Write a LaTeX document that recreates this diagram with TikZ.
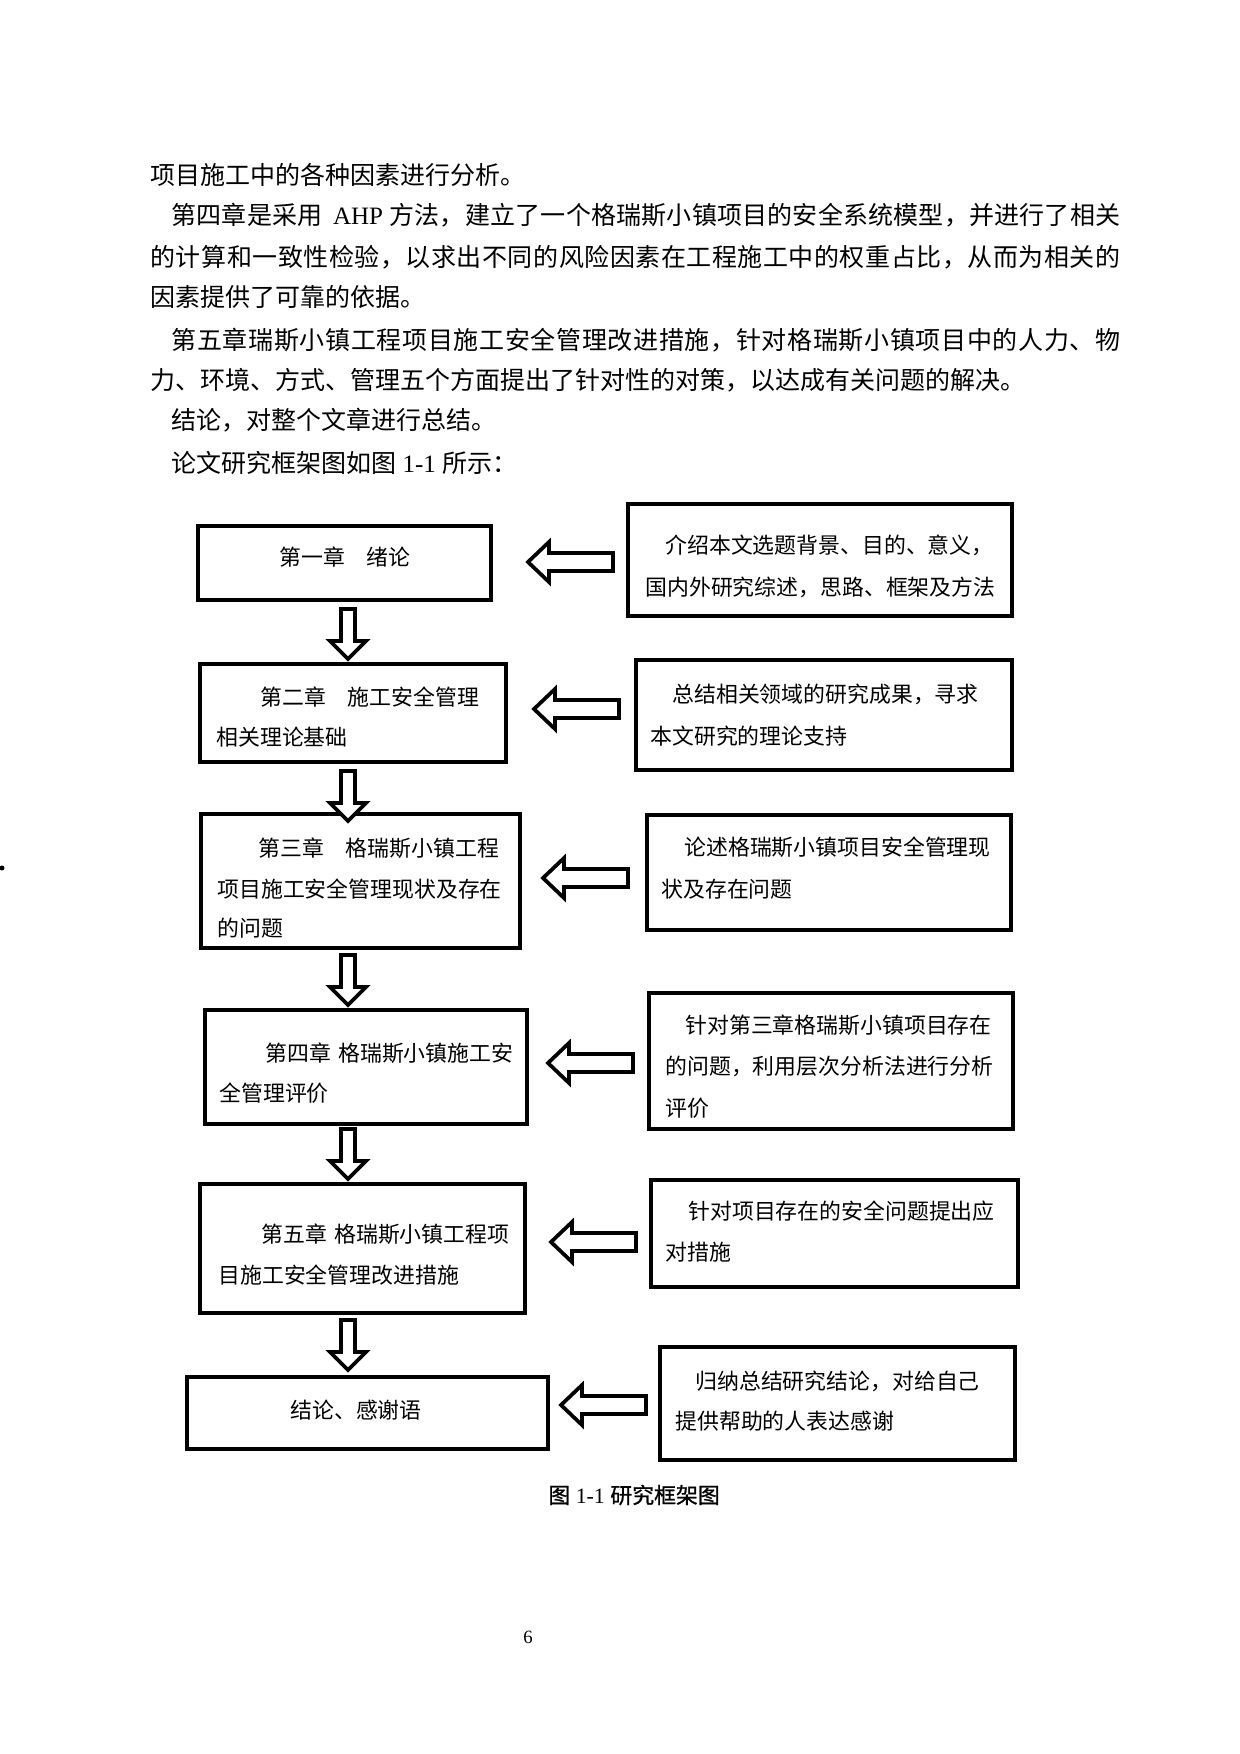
\documentclass[tikz,border=0pt]{standalone}
\usepackage{fontspec}
\setmainfont{Liberation Serif}
\newfontfamily\cjk{Noto Sans CJK SC}
\newfontfamily\cjkbold[FakeBold=1]{Noto Sans CJK SC}
\usetikzlibrary{fit}
\newcommand\lat[1]{{\rmfamily#1}}
\def\spreadtoks#1{\ifx\relax#1\else#1\hfil\expandafter\spreadtoks\fi}
\newcommand\jline[2]{\hbox to #1{\spreadtoks#2\relax\unskip}}
\newcommand\mkleft[1]{\draw[blk] (#1) -- ++(21,-20) -- ++(0,11) -- ++(64,0) -- ++(0,18) -- ++(-64,0) -- ++(0,11) -- cycle;}
\newcommand\mkdown[1]{\draw[blk] (#1) ++(-7,0) -- ++(14,0) -- ++(0,32) -- ++(11,0) -- ++(-18,18) -- ++(-18,-18) -- ++(11,0) -- cycle;}
\tikzset{
  body/.style={anchor=west, inner sep=0pt, font=\cjk\fontsize{12pt}{14pt}\selectfont},
  bt/.style={anchor=west, inner sep=0pt, font=\cjk\fontsize{10.5pt}{12pt}\selectfont},
  box/.style={draw, line width=1.8pt, inner sep=0pt},
  blk/.style={draw, fill=white, line width=1.8pt, line join=miter},
}
\begin{document}
\begin{tikzpicture}[x=0.48pt,y=-0.48pt]
\path[use as bounding box, fill=white] (0,0) rectangle (1240,1754);

% body text
\node[body] (t1) at (150,175) {项目施工中的各种因素进行分析。};
\node[body] (t2) at (171,215) {\jline{455.5pt}{第四章是采用{\hspace{5pt}\lat{AHP}\hspace{3pt}}方法，建立了一个格瑞斯小镇项目的安全系统模型，并进行了相关}};
\node[body] (t3) at (150,257) {\jline{465.6pt}{的计算和一致性检验，以求出不同的风险因素在工程施工中的权重占比，从而为相关的}};
\node[body] (t4) at (150,297) {因素提供了可靠的依据。};
\node[body] (t5) at (171,340) {\jline{455.5pt}{第五章瑞斯小镇工程项目施工安全管理改进措施，针对格瑞斯小镇项目中的人力、物}};
\node[body] (t6) at (150,380) {力、环境、方式、管理五个方面提出了针对性的对策，以达成有关问题的解决。};
\node[body] (t7) at (171,420) {结论，对整个文章进行总结。};
\node[body] (t8) at (171,463) {论文研究框架图如图\lat{~1-1~}所示：};

% boxes
\node[box, fit={(198,526) (491,600)}] (L1) {};
\node[box, fit={(628,504) (1012,616)}] (R1) {};
\node[box, fit={(200,664) (506,762)}] (L2) {};
\node[box, fit={(636,660) (1012,770)}] (R2) {};
\node[box, fit={(201,814) (520,948)}] (L3) {};
\node[box, fit={(647,815) (1011,930)}] (R3) {};
\node[box, fit={(205,1010) (527,1124)}] (L4) {};
\node[box, fit={(649,993) (1013,1129)}] (R4) {};
\node[box, fit={(200,1184) (525,1313)}] (L5) {};
\node[box, fit={(651,1180) (1018,1287)}] (R5) {};
\node[box, fit={(187,1377) (548,1449)}] (L6) {};
\node[box, fit={(660,1347) (1015,1460)}] (R6) {};

% box texts
\node[bt] (l1a) at (279,557) {第一章　绪论};
\node[bt] (l2a) at (260,697) {第二章　施工安全管理};
\node[bt] (l2b) at (216,737) {相关理论基础};
\node[bt] (l3a) at (258,848) {第三章　格瑞斯小镇工程};
\node[bt] (l3b) at (217,889) {项目施工安全管理现状及存在};
\node[bt] (l3c) at (217,928) {的问题};
\node[bt] (l4a) at (265,1053) {第四章\hspace{3.5pt}格瑞斯小镇施工安};
\node[bt] (l4b) at (219,1093) {全管理评价};
\node[bt] (l5a) at (261,1234) {第五章\hspace{3.5pt}格瑞斯小镇工程项};
\node[bt] (l5b) at (218,1275) {目施工安全管理改进措施};
\node[bt] (l6a) at (290,1410) {结论、感谢语};

\node[bt] (r1a) at (665,545) {介绍本文选题背景、目的、意义，};
\node[bt] (r1b) at (645,587) {国内外研究综述，思路、框架及方法};
\node[bt] (r2a) at (672,694) {总结相关领域的研究成果，寻求};
\node[bt] (r2b) at (650,736) {本文研究的理论支持};
\node[bt] (r3a) at (684,847) {论述格瑞斯小镇项目安全管理现};
\node[bt] (r3b) at (661,889) {状及存在问题};
\node[bt] (r4a) at (685,1025) {针对第三章格瑞斯小镇项目存在};
\node[bt] (r4b) at (665,1066) {的问题，利用层次分析法进行分析};
\node[bt] (r4c) at (665,1108) {评价};
\node[bt] (r5a) at (688,1211) {针对项目存在的安全问题提出应};
\node[bt] (r5b) at (665,1252) {对措施};
\node[bt] (r6a) at (695,1381) {归纳总结研究结论，对给自己};
\node[bt] (r6b) at (675,1421) {提供帮助的人表达感谢};

% arrows
\coordinate (a1) at (528,562);
\coordinate (a2) at (534,709);
\coordinate (a3) at (543,878);
\coordinate (a4) at (548,1063);
\coordinate (a5) at (551,1242);
\coordinate (a6) at (561,1405);
\mkleft{a1}\mkleft{a2}\mkleft{a3}\mkleft{a4}\mkleft{a5}\mkleft{a6}

\coordinate (d1) at (348,609);
\coordinate (d2) at (348,771);
\coordinate (d3) at (348,955);
\coordinate (d4) at (348,1129);
\coordinate (d5) at (348,1320);
\mkdown{d1}\mkdown{d2}\mkdown{d3}\mkdown{d4}\mkdown{d5}

% caption and page number
\node[anchor=west, inner sep=0pt, font=\cjkbold\fontsize{10.5pt}{12pt}\selectfont] (cap) at (548,1495) {图\lat{~1-1~}研究框架图};
\node[inner sep=0pt, font=\rmfamily\fontsize{9pt}{10pt}\selectfont] (pg) at (528,1637) {6};

% stray mark at left margin
\fill (2,868) circle[radius=2.5];
\end{tikzpicture}
\end{document}
